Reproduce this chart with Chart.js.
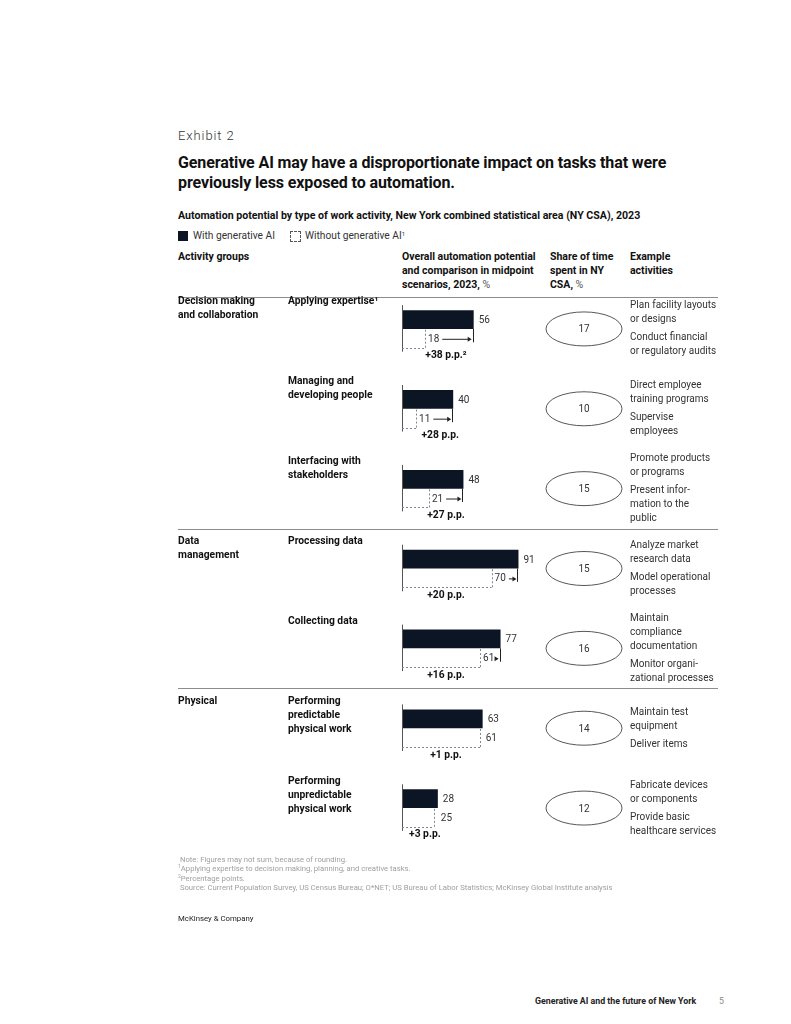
<!DOCTYPE html>
<html>
<head>
<meta charset="utf-8">
<script src="https://cdn.jsdelivr.net/npm/chart.js@4"></script>
<style>
body{margin:0;background:#fff;font-family:Roboto,"Liberation Sans",sans-serif;color:#111;}
#page{position:relative;width:791px;height:1024px;}
.t{position:absolute;white-space:nowrap;}
.sup{position:relative;top:-3px;font-size:5px;line-height:0;}
#chart{position:absolute;left:0;top:280px;}
</style>
</head>
<body>
<div id="page">
<div class="t" style="left:178px;top:128px;font-size:13px;line-height:16px;color:#333;font-weight:300;letter-spacing:0.9px;">Exhibit 2</div>
<div class="t" style="left:178px;top:153px;font-size:16px;line-height:20px;font-weight:700;color:#111;letter-spacing:-0.1px;">Generative AI may have a disproportionate impact on tasks that were<br>previously less exposed to automation.</div>
<div class="t" style="left:178px;top:209px;font-size:10.6px;line-height:14px;font-weight:700;color:#111;">Automation potential by type of work activity, New York combined statistical area (NY CSA), 2023</div>
<div class="t" style="left:178px;top:231px;width:10px;height:10px;background:#0c1524;"></div>
<div class="t" style="left:193px;top:229px;font-size:10.2px;line-height:14px;color:#333;">With generative AI</div>
<div class="t" style="left:290px;top:231px;width:9px;height:9px;border:1px dashed #555;"></div>
<div class="t" style="left:305px;top:229px;font-size:10.2px;line-height:14px;color:#333;">Without generative AI<span class="sup" style="font-size:6px;">1</span></div>
<div class="t" style="left:178px;top:250px;font-size:10.5px;line-height:14px;font-weight:700;">Activity groups</div>
<div class="t" style="left:402px;top:250px;font-size:10.5px;line-height:14px;font-weight:700;">Overall automation potential<br>and comparison in midpoint<br>scenarios, 2023, <span style="font-weight:400;color:#555;">%</span></div>
<div class="t" style="left:550px;top:250px;font-size:10.5px;line-height:14px;font-weight:700;">Share of time<br>spent in NY<br>CSA, <span style="font-weight:400;color:#555;">%</span></div>
<div class="t" style="left:630px;top:250px;font-size:10.5px;line-height:14px;font-weight:700;">Example<br>activities</div>
<canvas id="chart" width="791" height="580"></canvas>
<div class="t" style="left:178px;top:855px;font-size:7.7px;line-height:9.3px;color:#a0a0a0;">&nbsp;Note: Figures may not sum, because of rounding.<br><span class="sup">1</span>Applying expertise to decision making, planning, and creative tasks.<br><span class="sup">2</span>Percentage points.<br>&nbsp;Source: Current Population Survey, US Census Bureau; O*NET; US Bureau of Labor Statistics; McKinsey Global Institute analysis</div>
<div class="t" style="left:178px;top:914px;font-size:7.8px;line-height:10px;color:#222;">McKinsey &amp; Company</div>
<div class="t" style="left:535px;top:995px;font-size:8.8px;line-height:12px;font-weight:700;color:#222;">Generative AI and the future of New York</div>
<div class="t" style="left:719px;top:995px;font-size:8.8px;line-height:12px;color:#888;">5</div>
</div>
<script>
const activities = [
  ["Applying expertise¹"],
  ["Managing and", "developing people"],
  ["Interfacing with", "stakeholders"],
  ["Processing data"],
  ["Collecting data"],
  ["Performing", "predictable", "physical work"],
  ["Performing", "unpredictable", "physical work"]
];
const groups = [
  {lines: ["Decision making", "and collaboration"], first: 0},
  {lines: ["Data", "management"], first: 3},
  {lines: ["Physical"], first: 5}
];
const withAI = [56, 40, 48, 91, 77, 63, 28];
const withoutAI = [18, 11, 21, 70, 61, 61, 25];
const change = ["+38 p.p.²", "+28 p.p.", "+27 p.p.", "+20 p.p.", "+16 p.p.", "+1 p.p.", "+3 p.p."];
const shareOfTime = [17, 10, 15, 15, 16, 14, 12];
const examples = [
  [["Plan facility layouts", "or designs"], ["Conduct financial", "or regulatory audits"]],
  [["Direct employee", "training programs"], ["Supervise", "employees"]],
  [["Promote products", "or programs"], ["Present infor-", "mation to the", "public"]],
  [["Analyze market", "research data"], ["Model operational", "processes"]],
  [["Maintain", "compliance", "documentation"], ["Monitor organi-", "zational processes"]],
  [["Maintain test", "equipment"], ["Deliver items"]],
  [["Fabricate devices", "or components"], ["Provide basic", "healthcare services"]]
];

const FONT = "Roboto, 'Liberation Sans', sans-serif";
const DARK = "#0c1524";

const tablePlugin = {
  id: "table",
  afterDatasetsDraw(chart) {
    const ctx = chart.ctx;
    const yS = chart.scales.y;
    const solid = chart.getDatasetMeta(0).data;
    const dashed = chart.getDatasetMeta(1).data;
    const step = yS.getPixelForValue(1) - yS.getPixelForValue(0);
    ctx.save();
    ctx.textBaseline = "middle";

    // separators
    ctx.strokeStyle = "#8c8c8c";
    ctx.lineWidth = 1;
    const seps = [yS.getPixelForValue(0) - step * 0.4];
    groups.slice(1).forEach(g => {
      seps.push((yS.getPixelForValue(g.first - 1) + yS.getPixelForValue(g.first)) / 2);
    });
    seps.forEach(y => {
      ctx.beginPath();
      ctx.moveTo(178, Math.round(y) + 0.5);
      ctx.lineTo(718, Math.round(y) + 0.5);
      ctx.stroke();
    });

    // group labels
    ctx.fillStyle = "#111";
    ctx.font = "700 10.3px " + FONT;
    ctx.textAlign = "left";
    groups.forEach(g => {
      const y0 = yS.getPixelForValue(g.first) - 27;
      g.lines.forEach((l, k) => ctx.fillText(l, 178, y0 + k * 14));
    });

    activities.forEach((lines, i) => {
      const cy = yS.getPixelForValue(i);
      const s = solid[i], d = dashed[i];
      const sTop = s.y - s.height / 2, sBot = s.y + s.height / 2;
      const dBot = d.y + d.height / 2;
      const x0 = s.base;

      // row label
      ctx.fillStyle = "#111";
      ctx.font = "700 10.3px " + FONT;
      ctx.textAlign = "left";
      const y0 = cy - 27;
      lines.forEach((l, k) => ctx.fillText(l, 288, y0 + k * 14));

      // axis line
      ctx.strokeStyle = "#555";
      ctx.lineWidth = 1;
      ctx.setLineDash([]);
      ctx.beginPath();
      ctx.moveTo(Math.round(x0) + 0.5, sTop - 5);
      ctx.lineTo(Math.round(x0) + 0.5, dBot + 4);
      ctx.stroke();

      // dashed bar outline
      ctx.strokeStyle = "#7d8796";
      ctx.setLineDash([2, 2]);
      ctx.beginPath();
      ctx.moveTo(x0, Math.round(dBot) + 0.5);
      ctx.lineTo(d.x, Math.round(dBot) + 0.5);
      ctx.moveTo(Math.round(d.x) + 0.5, dBot);
      ctx.lineTo(Math.round(d.x) + 0.5, sBot);
      ctx.stroke();
      ctx.setLineDash([]);

      // solid end line
      const gap = s.x - d.x;
      ctx.strokeStyle = "#222";
      if (gap > 6) {
        ctx.beginPath();
        ctx.moveTo(Math.round(s.x) - 0.5, sBot);
        ctx.lineTo(Math.round(s.x) - 0.5, d.y + 4);
        ctx.stroke();
      }

      // value labels
      ctx.font = "400 10px " + FONT;
      ctx.fillStyle = "#333";
      ctx.fillText(String(withAI[i]), s.x + 5, s.y + 1);
      if (gap > 6) {
        const lbl = String(withoutAI[i]);
        const lx = d.x + 3;
        ctx.fillText(lbl, lx, d.y + 1);
        const ax0 = lx + ctx.measureText(lbl).width + 3;
        const ax1 = s.x - 2;
        ctx.beginPath();
        ctx.moveTo(ax0, d.y + 1);
        ctx.lineTo(ax1 - 3, d.y + 1);
        ctx.stroke();
        ctx.beginPath();
        ctx.moveTo(ax1, d.y + 1);
        ctx.lineTo(ax1 - 4, d.y - 1.5);
        ctx.lineTo(ax1 - 4, d.y + 3.5);
        ctx.closePath();
        ctx.fillStyle = "#222";
        ctx.fill();
        ctx.fillStyle = "#333";
      } else {
        ctx.fillText(String(withoutAI[i]), s.x + 3, d.y + 1);
      }

      // change label
      ctx.font = "700 10.3px " + FONT;
      ctx.fillStyle = "#111";
      ctx.textAlign = "center";
      ctx.fillText(change[i], Math.min(446, s.x - 13), dBot + 8);
      ctx.textAlign = "left";

      // share-of-time ellipse
      ctx.strokeStyle = "#444";
      ctx.lineWidth = 0.9;
      ctx.beginPath();
      ctx.ellipse(584, cy, 38, 17, 0, 0, Math.PI * 2);
      ctx.stroke();
      ctx.lineWidth = 1;
      ctx.font = "400 10px " + FONT;
      ctx.fillStyle = "#333";
      ctx.textAlign = "center";
      ctx.fillText(String(shareOfTime[i]), 584, cy + 1);
      ctx.textAlign = "left";

      // example activities
      const ex = examples[i];
      let h = 0;
      ex.forEach((p, k) => { h += p.length * 14 + (k ? 4 : 0); });
      let y = cy - h / 2 + 7;
      ex.forEach((p, k) => {
        if (k) y += 4;
        p.forEach(l => { ctx.fillText(l, 630, y); y += 14; });
      });
    });
    ctx.restore();
  }
};

new Chart(document.getElementById("chart"), {
  type: "bar",
  data: {
    labels: activities.map(a => a.join(" ")),
    datasets: [
      {label: "With generative AI", data: withAI, backgroundColor: DARK, borderWidth: 0},
      {label: "Without generative AI", data: withoutAI, backgroundColor: "rgba(0,0,0,0)", borderWidth: 0}
    ]
  },
  options: {
    indexAxis: "y",
    responsive: false,
    animation: false,
    categoryPercentage: 0.47,
    barPercentage: 1,
    layout: {padding: {left: 402, right: 261, top: 9, bottom: 12}},
    scales: {
      x: {display: false, min: 0, max: 100},
      y: {display: false}
    },
    plugins: {legend: {display: false}, tooltip: {enabled: false}}
  },
  plugins: [tablePlugin]
});
</script>
</body>
</html>
